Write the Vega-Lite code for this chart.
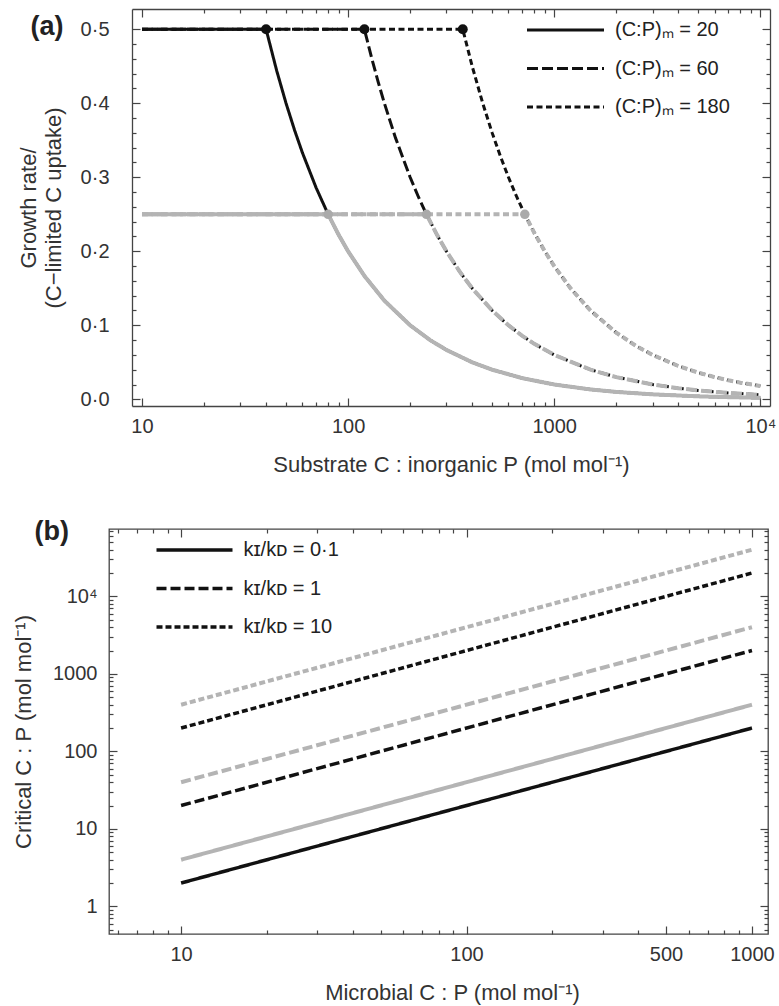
{
  "$schema": "https://vega.github.io/schema/vega-lite/v6.json",
  "padding": {"left": 11, "top": 8, "right": 5, "bottom": 2},
  "spacing": 41,
  "resolve": {"scale": {"strokeDash": "independent"}, "legend": {"strokeDash": "independent"}},
  "config": {
    "font": "Liberation Sans",
    "view": {"stroke": "#444", "strokeWidth": 1.3},
    "axis": {"grid": false, "domain": false, "domainColor": "#444", "domainWidth": 1.3, "tickColor": "#444", "tickWidth": 1.2, "labelFont": "Liberation Sans", "labelFontSize": 20, "labelColor": "#333", "titleFont": "Liberation Sans", "titleFontSize": 22, "titleFontWeight": "normal", "titleColor": "#333"},
    "legend": {"padding": 0, "labelFont": "Liberation Sans", "labelFontSize": 20, "labelColor": "#222", "symbolType": "stroke", "symbolStrokeColor": "#111", "clipHeight": 20, "title": null}
  },
  "datasets": {
    "a_black": [
      {"x": 10, "y": 0.5, "m": 20}, {"x": 40, "y": 0.5, "m": 20}, {"x": 45, "y": 0.4444, "m": 20}, {"x": 50, "y": 0.4, "m": 20}, {"x": 55, "y": 0.3636, "m": 20}, {"x": 60, "y": 0.3333, "m": 20}, {"x": 70, "y": 0.2857, "m": 20}, {"x": 80, "y": 0.25, "m": 20}, {"x": 90, "y": 0.2222, "m": 20}, {"x": 100, "y": 0.2, "m": 20}, {"x": 120, "y": 0.1667, "m": 20}, {"x": 150, "y": 0.1333, "m": 20}, {"x": 200, "y": 0.1, "m": 20}, {"x": 250, "y": 0.08, "m": 20}, {"x": 300, "y": 0.0667, "m": 20}, {"x": 400, "y": 0.05, "m": 20}, {"x": 500, "y": 0.04, "m": 20}, {"x": 700, "y": 0.0286, "m": 20}, {"x": 1000, "y": 0.02, "m": 20}, {"x": 1500, "y": 0.0133, "m": 20}, {"x": 2000, "y": 0.01, "m": 20}, {"x": 3000, "y": 0.0067, "m": 20}, {"x": 5000, "y": 0.004, "m": 20}, {"x": 7000, "y": 0.0029, "m": 20}, {"x": 10000, "y": 0.002, "m": 20},
      {"x": 10, "y": 0.5, "m": 60}, {"x": 120, "y": 0.5, "m": 60}, {"x": 130, "y": 0.4615, "m": 60}, {"x": 140, "y": 0.4286, "m": 60}, {"x": 150, "y": 0.4, "m": 60}, {"x": 170, "y": 0.3529, "m": 60}, {"x": 200, "y": 0.3, "m": 60}, {"x": 220, "y": 0.2727, "m": 60}, {"x": 240, "y": 0.25, "m": 60}, {"x": 270, "y": 0.2222, "m": 60}, {"x": 300, "y": 0.2, "m": 60}, {"x": 350, "y": 0.1714, "m": 60}, {"x": 400, "y": 0.15, "m": 60}, {"x": 500, "y": 0.12, "m": 60}, {"x": 600, "y": 0.1, "m": 60}, {"x": 700, "y": 0.0857, "m": 60}, {"x": 800, "y": 0.075, "m": 60}, {"x": 1000, "y": 0.06, "m": 60}, {"x": 1500, "y": 0.04, "m": 60}, {"x": 2000, "y": 0.03, "m": 60}, {"x": 3000, "y": 0.02, "m": 60}, {"x": 4000, "y": 0.015, "m": 60}, {"x": 5000, "y": 0.012, "m": 60}, {"x": 7000, "y": 0.0086, "m": 60}, {"x": 10000, "y": 0.006, "m": 60},
      {"x": 10, "y": 0.5, "m": 180}, {"x": 360, "y": 0.5, "m": 180}, {"x": 400, "y": 0.45, "m": 180}, {"x": 450, "y": 0.4, "m": 180}, {"x": 500, "y": 0.36, "m": 180}, {"x": 550, "y": 0.3273, "m": 180}, {"x": 600, "y": 0.3, "m": 180}, {"x": 660, "y": 0.2727, "m": 180}, {"x": 720, "y": 0.25, "m": 180}, {"x": 800, "y": 0.225, "m": 180}, {"x": 900, "y": 0.2, "m": 180}, {"x": 1000, "y": 0.18, "m": 180}, {"x": 1200, "y": 0.15, "m": 180}, {"x": 1500, "y": 0.12, "m": 180}, {"x": 2000, "y": 0.09, "m": 180}, {"x": 2500, "y": 0.072, "m": 180}, {"x": 3000, "y": 0.06, "m": 180}, {"x": 4000, "y": 0.045, "m": 180}, {"x": 5000, "y": 0.036, "m": 180}, {"x": 6000, "y": 0.03, "m": 180}, {"x": 7000, "y": 0.0257, "m": 180}, {"x": 8000, "y": 0.0225, "m": 180}, {"x": 10000, "y": 0.018, "m": 180}
    ],
    "a_gray": [
      {"x": 10, "y": 0.25, "m": 20}, {"x": 80, "y": 0.25, "m": 20}, {"x": 90, "y": 0.2222, "m": 20}, {"x": 100, "y": 0.2, "m": 20}, {"x": 120, "y": 0.1667, "m": 20}, {"x": 150, "y": 0.1333, "m": 20}, {"x": 200, "y": 0.1, "m": 20}, {"x": 250, "y": 0.08, "m": 20}, {"x": 300, "y": 0.0667, "m": 20}, {"x": 400, "y": 0.05, "m": 20}, {"x": 500, "y": 0.04, "m": 20}, {"x": 700, "y": 0.0286, "m": 20}, {"x": 1000, "y": 0.02, "m": 20}, {"x": 1500, "y": 0.0133, "m": 20}, {"x": 2000, "y": 0.01, "m": 20}, {"x": 3000, "y": 0.0067, "m": 20}, {"x": 5000, "y": 0.004, "m": 20}, {"x": 7000, "y": 0.0029, "m": 20}, {"x": 10000, "y": 0.002, "m": 20},
      {"x": 10, "y": 0.25, "m": 60}, {"x": 240, "y": 0.25, "m": 60}, {"x": 270, "y": 0.2222, "m": 60}, {"x": 300, "y": 0.2, "m": 60}, {"x": 350, "y": 0.1714, "m": 60}, {"x": 400, "y": 0.15, "m": 60}, {"x": 500, "y": 0.12, "m": 60}, {"x": 600, "y": 0.1, "m": 60}, {"x": 700, "y": 0.0857, "m": 60}, {"x": 800, "y": 0.075, "m": 60}, {"x": 1000, "y": 0.06, "m": 60}, {"x": 1500, "y": 0.04, "m": 60}, {"x": 2000, "y": 0.03, "m": 60}, {"x": 3000, "y": 0.02, "m": 60}, {"x": 4000, "y": 0.015, "m": 60}, {"x": 5000, "y": 0.012, "m": 60}, {"x": 7000, "y": 0.0086, "m": 60}, {"x": 10000, "y": 0.006, "m": 60},
      {"x": 10, "y": 0.25, "m": 180}, {"x": 720, "y": 0.25, "m": 180}, {"x": 800, "y": 0.225, "m": 180}, {"x": 900, "y": 0.2, "m": 180}, {"x": 1000, "y": 0.18, "m": 180}, {"x": 1200, "y": 0.15, "m": 180}, {"x": 1500, "y": 0.12, "m": 180}, {"x": 2000, "y": 0.09, "m": 180}, {"x": 2500, "y": 0.072, "m": 180}, {"x": 3000, "y": 0.06, "m": 180}, {"x": 4000, "y": 0.045, "m": 180}, {"x": 5000, "y": 0.036, "m": 180}, {"x": 6000, "y": 0.03, "m": 180}, {"x": 7000, "y": 0.0257, "m": 180}, {"x": 8000, "y": 0.0225, "m": 180}, {"x": 10000, "y": 0.018, "m": 180}
    ],
    "a_bpts": [{"x": 40, "y": 0.5}, {"x": 120, "y": 0.5}, {"x": 360, "y": 0.5}],
    "a_gpts": [{"x": 80, "y": 0.25}, {"x": 240, "y": 0.25}, {"x": 720, "y": 0.25}],
    "b_lines": [
      {"x": 10, "y": 2, "k": 0.1, "tone": "black"}, {"x": 1000, "y": 200, "k": 0.1, "tone": "black"},
      {"x": 10, "y": 20, "k": 1, "tone": "black"}, {"x": 1000, "y": 2000, "k": 1, "tone": "black"},
      {"x": 10, "y": 200, "k": 10, "tone": "black"}, {"x": 1000, "y": 20000, "k": 10, "tone": "black"},
      {"x": 10, "y": 4, "k": 0.1, "tone": "gray"}, {"x": 1000, "y": 400, "k": 0.1, "tone": "gray"},
      {"x": 10, "y": 40, "k": 1, "tone": "gray"}, {"x": 1000, "y": 4000, "k": 1, "tone": "gray"},
      {"x": 10, "y": 400, "k": 10, "tone": "gray"}, {"x": 1000, "y": 40000, "k": 10, "tone": "gray"}
    ]
  },
  "vconcat": [
    {
      "width": 661,
      "height": 397,
      "view": {"stroke": null},
      "resolve": {"axis": {"x": "independent", "y": "independent"}},
      "layer": [
        {
          "data": {"name": "a_black"},
          "mark": {"type": "line", "strokeWidth": 3, "color": "#111", "clip": true},
          "encoding": {
            "x": {"field": "x", "type": "quantitative", "scale": {"type": "log", "domain": [8.944, 11142], "nice": false, "range": [23, 661]},
              "axis": {"orient": "bottom", "domain": true, "values": [10, 100, 1000, 10000], "labelExpr": "datum.value >= 10000 ? '10⁴' : format(datum.value, 'd')", "tickSize": -8, "labelPadding": 18, "minExtent": 30, "maxExtent": 30, "titlePadding": 18, "title": "Substrate C : inorganic P (mol mol⁻¹)"}},
            "y": {"field": "y", "type": "quantitative", "scale": {"domain": [-0.00905, 0.5274], "nice": false, "zero": false},
              "axis": {"orient": "left", "offset": -23, "domain": true, "values": [0, 0.1, 0.2, 0.3, 0.4, 0.5], "labelExpr": "replace(format(datum.value, '.1f'), '.', '·')", "tickSize": -8, "labelPadding": 31, "minExtent": 40, "maxExtent": 40, "titlePadding": 27, "titleLineHeight": 25, "title": ["Growth rate/", "(C−limited C uptake)"]}},
            "strokeDash": {"field": "m", "type": "nominal", "scale": {"domain": [20, 60, 180], "range": [[1, 0], [11, 4], [6, 3.5]]},
              "legend": {"orient": "none", "legendX": 416.5, "legendY": 11, "symbolSize": 5929, "symbolStrokeWidth": 3, "rowPadding": 18.5, "labelOffset": 9.5, "labelExpr": "'(C:P)ₘ = ' + datum.label"}}
          }
        },
        {
          "data": {"name": "a_gray"},
          "mark": {"type": "line", "strokeWidth": 4, "color": "#b4b4b4", "clip": true},
          "encoding": {
            "x": {"field": "x", "type": "quantitative", "axis": {"orient": "top", "domain": true, "values": [10, 100, 1000, 10000], "labels": false, "tickSize": -8, "title": null}},
            "y": {"field": "y", "type": "quantitative", "axis": {"orient": "right", "domain": true, "values": [0, 0.1, 0.2, 0.3, 0.4, 0.5], "labels": false, "tickSize": -8, "title": null}},
            "strokeDash": {"field": "m", "type": "nominal", "legend": null}
          }
        },
        {
          "data": {"name": "a_bpts"},
          "mark": {"type": "circle", "size": 100, "color": "#111", "opacity": 1},
          "encoding": {
            "x": {"field": "x", "type": "quantitative", "axis": {"orient": "bottom", "values": [20, 30, 40, 50, 60, 70, 80, 90, 200, 300, 400, 500, 600, 700, 800, 900, 2000, 3000, 4000, 5000, 6000, 7000, 8000, 9000], "labels": false, "tickSize": -4, "title": null}},
            "y": {"field": "y", "type": "quantitative", "axis": {"orient": "left", "offset": -23, "values": [0.02, 0.04, 0.06, 0.08, 0.12, 0.14, 0.16, 0.18, 0.22, 0.24, 0.26, 0.28, 0.32, 0.34, 0.36, 0.38, 0.42, 0.44, 0.46, 0.48], "labels": false, "tickSize": -4,
              "title": "(a)", "titleAngle": 0, "titleX": -102, "titleY": 25, "titleAlign": "left", "titleBaseline": "alphabetic", "titleFontSize": 27, "titleFontWeight": "bold", "titleColor": "#222"}}
          }
        },
        {
          "data": {"name": "a_gpts"},
          "mark": {"type": "circle", "size": 90, "color": "#aaaaaa", "opacity": 1},
          "encoding": {
            "x": {"field": "x", "type": "quantitative", "axis": {"orient": "top", "values": [20, 30, 40, 50, 60, 70, 80, 90, 200, 300, 400, 500, 600, 700, 800, 900, 2000, 3000, 4000, 5000, 6000, 7000, 8000, 9000], "labels": false, "tickSize": -4, "title": null}},
            "y": {"field": "y", "type": "quantitative", "axis": {"orient": "right", "values": [0.02, 0.04, 0.06, 0.08, 0.12, 0.14, 0.16, 0.18, 0.22, 0.24, 0.26, 0.28, 0.32, 0.34, 0.36, 0.38, 0.42, 0.44, 0.46, 0.48], "labels": false, "tickSize": -4, "title": null}}
          }
        }
      ]
    },
    {
      "width": 659,
      "height": 405,
      "data": {"name": "b_lines"},
      "resolve": {"axis": {"x": "independent", "y": "independent"}},
      "layer": [
        {
          "transform": [{"filter": "datum.tone == 'black' && datum.k != 10"}],
          "mark": {"type": "line", "strokeWidth": 3.5, "color": "#111"},
          "encoding": {
            "x": {"field": "x", "type": "quantitative", "scale": {"type": "log", "domain": [5.59, 1138], "nice": false},
              "axis": {"orient": "bottom", "values": [10, 100, 500, 1000], "labelExpr": "format(datum.value, 'd')", "tickSize": -8, "labelPadding": 18, "minExtent": 30, "maxExtent": 30, "titlePadding": 18, "titleX": 343, "title": "Microbial C : P (mol mol⁻¹)"}},
            "y": {"field": "y", "type": "quantitative", "scale": {"type": "log", "domain": [0.44, 74000], "nice": false},
              "axis": {"orient": "left", "values": [1, 10, 100, 1000, 10000], "labelExpr": "datum.value >= 10000 ? '10⁴' : format(datum.value, 'd')", "tickSize": -8, "labelPadding": 20, "minExtent": 40, "maxExtent": 40, "titlePadding": 33.5, "title": "Critical C : P (mol mol⁻¹)"}},
            "strokeDash": {"field": "k", "type": "nominal", "scale": {"domain": [0.1, 1, 10], "range": [[1, 0], [10, 4], [6, 3]]},
              "legend": {"orient": "none", "legendX": 45.5, "legendY": 11, "symbolSize": 5776, "symbolStrokeWidth": 3.5, "rowPadding": 18.5, "labelOffset": 9, "labelExpr": "'kɪ/kᴅ = ' + replace(datum.label, '.', '·')"}}
          }
        },
        {
          "transform": [{"filter": "datum.tone == 'black' && datum.k == 10"}],
          "mark": {"type": "line", "strokeWidth": 3.5, "color": "#111"},
          "encoding": {
            "x": {"field": "x", "type": "quantitative", "axis": {"orient": "top", "values": [10, 100, 1000], "labels": false, "tickSize": -8, "title": null}},
            "y": {"field": "y", "type": "quantitative", "axis": {"orient": "right", "values": [1, 10, 100, 1000, 10000], "labels": false, "tickSize": -8, "title": null}},
            "strokeDash": {"field": "k", "type": "nominal", "legend": null}
          }
        },
        {
          "transform": [{"filter": "datum.tone == 'gray' && datum.k != 10"}],
          "mark": {"type": "line", "strokeWidth": 4, "color": "#b4b4b4"},
          "encoding": {
            "x": {"field": "x", "type": "quantitative", "axis": {"orient": "bottom", "values": [6, 7, 8, 9, 20, 30, 40, 50, 60, 70, 80, 90, 200, 300, 400, 600, 700, 800, 900], "labels": false, "tickSize": -4, "title": null}},
            "y": {"field": "y", "type": "quantitative", "axis": {"orient": "left", "values": [0.5, 0.6, 0.7, 0.8, 0.9, 2, 3, 4, 5, 6, 7, 8, 9, 20, 30, 40, 50, 60, 70, 80, 90, 200, 300, 400, 500, 600, 700, 800, 900, 2000, 3000, 4000, 5000, 6000, 7000, 8000, 9000, 20000, 30000, 40000, 50000, 60000, 70000], "labels": false, "tickSize": -4,
              "title": "(b)", "titleAngle": 0, "titleX": -75, "titleY": 10, "titleAlign": "left", "titleBaseline": "alphabetic", "titleFontSize": 27, "titleFontWeight": "bold", "titleColor": "#222"}},
            "strokeDash": {"field": "k", "type": "nominal", "legend": null}
          }
        },
        {
          "transform": [{"filter": "datum.tone == 'gray' && datum.k == 10"}],
          "mark": {"type": "line", "strokeWidth": 4, "color": "#b4b4b4"},
          "encoding": {
            "x": {"field": "x", "type": "quantitative", "axis": {"orient": "top", "values": [6, 7, 8, 9, 20, 30, 40, 50, 60, 70, 80, 90, 200, 300, 400, 500, 600, 700, 800, 900], "labels": false, "tickSize": -4, "title": null}},
            "y": {"field": "y", "type": "quantitative", "axis": {"orient": "right", "values": [0.5, 0.6, 0.7, 0.8, 0.9, 2, 3, 4, 5, 6, 7, 8, 9, 20, 30, 40, 50, 60, 70, 80, 90, 200, 300, 400, 500, 600, 700, 800, 900, 2000, 3000, 4000, 5000, 6000, 7000, 8000, 9000, 20000, 30000, 40000, 50000, 60000, 70000], "labels": false, "tickSize": -4, "title": null}},
            "strokeDash": {"field": "k", "type": "nominal", "legend": null}
          }
        }
      ]
    }
  ]
}
